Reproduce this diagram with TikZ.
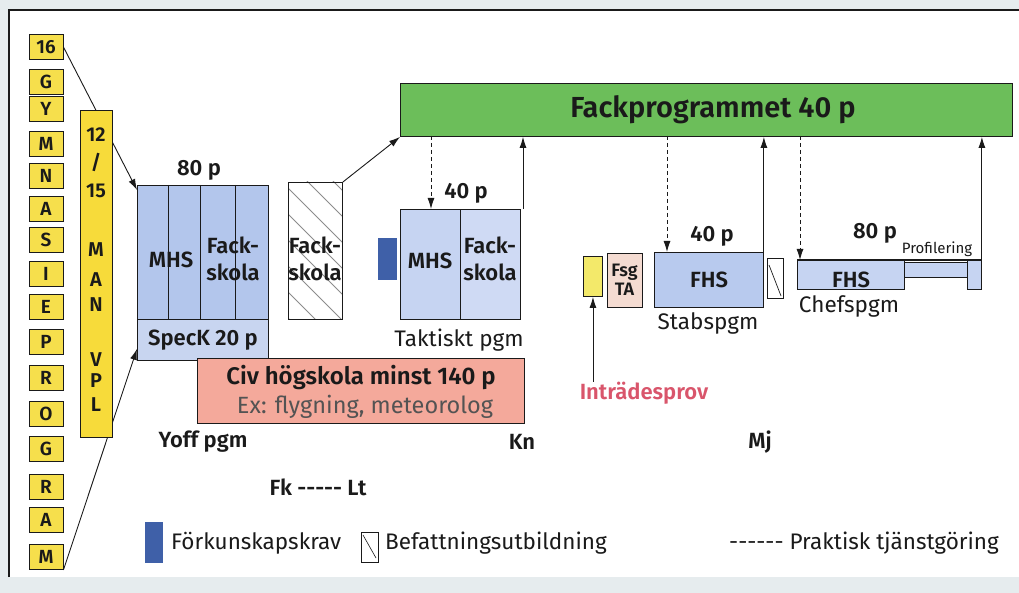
\documentclass[tikz,border=0pt]{standalone}
\usepackage{fontspec}
\setmainfont{Fira Sans}[BoldFont={Fira Sans SemiBold}]
\usetikzlibrary{arrows.meta}

\definecolor{frameout}{HTML}{E6ECEE}
\definecolor{lettery}{HTML}{F6DF4C}
\definecolor{coly}{HTML}{F7DB3A}
\definecolor{entryy}{HTML}{F3E96A}
\definecolor{blueA}{HTML}{B3C6EC}
\definecolor{blueB}{HTML}{C8D5F0}
\definecolor{blueC}{HTML}{C6D4F2}
\definecolor{blueD}{HTML}{B8CAEE}
\definecolor{prereq}{HTML}{3F60A8}
\definecolor{fpgreen}{HTML}{6CBE5A}
\definecolor{civred}{HTML}{F4A99B}
\definecolor{fsgpink}{HTML}{F4DBD1}
\definecolor{entry}{HTML}{D9556B}
\definecolor{hatchgray}{HTML}{8C8C8C}
\definecolor{ink}{HTML}{1A1A1A}

\tikzset{
  box/.style={draw=ink, line width=0.9pt, inner sep=0pt, anchor=north west},
  lt/.style={font=\fontsize{22}{27}\selectfont\bfseries, text=ink, inner sep=0pt, align=center},
  ltm/.style={font=\fontsize{22.5}{27}\selectfont, text=ink, inner sep=0pt, align=center},
  letterbox/.style={draw=ink, line width=0.9pt, fill=lettery, minimum width=34, minimum height=25,
    inner sep=0pt, font=\fontsize{19}{21}\selectfont\bfseries, text=ink},
  coltxt/.style={font=\fontsize{20}{22}\selectfont\bfseries, text=ink, inner sep=0pt},
  legtxt/.style={font=\fontsize{22.5}{26}\selectfont, text=ink, inner sep=0pt, anchor=west},
  arr/.style={draw=ink, line width=0.9pt, -{Latex[length=11pt,width=7pt]}},
  darr/.style={arr, dash pattern=on 4pt off 3pt},
  hatchline/.style={draw=hatchgray, line width=0.8pt}
}

\begin{document}
\begin{tikzpicture}[x=1pt,y=-1pt]
\useasboundingbox (0,0) rectangle (1019,593);

% page frame
\fill[frameout] (0,0) rectangle (1019,593);
\fill[white] (9,10) rectangle (1019,577);
\draw[ink, line width=1.2pt] (9,577) -- (9,10) -- (1019,10);

% officer programme block
\node[box, fill=blueA, minimum width=131, minimum height=134] (b80) at (137,185) {};
\draw[ink, line width=0.8pt] (168,185) -- (168,319) (200,185) -- (200,319) (235,185) -- (235,319);
\node[box, fill=blueB, minimum width=131, minimum height=41] (speck) at (137,319) {};
\node[lt] at (171,260) {MHS};
\node[lt] at (233,259) {Fack-\\skola};
\node[lt] at (203,340) {SpecK 20 p};
\node[lt] at (199,170) {80 p};

% letter column
\foreach \t/\y/\n in {16/47/l1, G/82/l2, Y/109/l3, M/144/l4, N/176/l5, A/209/l6, S/240/l7, I/274/l8,
  E/307/l9, P/342/l10, R/378/l11, O/414/l12, G/449/l13, R/487/l14, A/520/l15, M/557/l16}
  \node[letterbox] (\n) at (46,\y) {\t};

% entry arrows
\draw[arr] (l1.east) -- ([yshift=-5pt]b80.north west);
\draw[arr] (l16.south east) -- ([yshift=12pt]speck.south west);

% second yellow column
\node[box, fill=coly, minimum width=32, minimum height=327] (col) at (80,110) {};
\node[coltxt] at (96,135) {12};
\node[coltxt] at (96,162) {/};
\node[coltxt] at (96,191) {15};
\node[coltxt] at (96,250) {M};
\node[coltxt] at (96,280) {A};
\node[coltxt] at (96,305) {N};
\node[coltxt] at (96,360) {V};
\node[coltxt] at (96,381) {P};
\node[coltxt] at (96,405) {L};

% hatched specialist school
\node[box, fill=white, minimum width=54, minimum height=137] (hatch) at (288,182) {};
\begin{scope}
  \clip (288,182) rectangle (342,319);
  \foreach \i in {-150,-124,...,140}
    \draw[hatchline] (288,182+\i) -- (488,382+\i);
\end{scope}
\draw[ink, line width=0.9pt] (288,182) rectangle (342,319);
\node[lt] at (315,259) {Fack-\\skola};

% green programme bar
\node[box, fill=fpgreen, minimum width=612, minimum height=53] (fp) at (400,83) {};
\node[font=\fontsize{29}{32}\selectfont\bfseries, text=ink, inner sep=0pt] at (713,110) {Fackprogrammet 40 p};
\draw[arr] (hatch.north east) -- (fp.south west);

% tactical programme
\node[box, fill=blueC, minimum width=60, minimum height=110] (tmhs) at (400,209) {};
\node[box, fill=blueC!85!white, minimum width=60, minimum height=110] (tfack) at (460,209) {};
\node[fill=prereq, minimum width=19, minimum height=42, inner sep=0pt, anchor=north west] (tpre) at (378,238) {};
\node[lt] at (430,261) {MHS};
\node[lt] at (490,259) {Fack-\\skola};
\node[lt] at (466,193) {40 p};
\node[ltm] at (459,340) {Taktiskt pgm};
\draw[darr] (431,136) -- (431,209);
\coordinate (tup) at (523,209);
\draw[arr] (tup) -- (tup |- fp.south);

% civilian university
\node[box, fill=civred, minimum width=327, minimum height=65] (civ) at (197,358) {};
\node[font=\fontsize{24}{27}\selectfont\bfseries, text=ink, inner sep=0pt] at (361,378) {Civ högskola minst 140 p};
\node[font=\fontsize{23.5}{27}\selectfont, text=ink!75, inner sep=0pt] at (365,407) {Ex: flygning, meteorolog};

% timeline labels
\node[lt] at (203,442) {Yoff pgm};
\node[lt] at (522,442) {Kn};
\node[lt] at (760,442) {Mj};
\node[lt] at (318,487) {Fk {-}{-}{-}{-}{-} Lt};

% entrance test and staff programme
\node[box, fill=entryy, minimum width=19, minimum height=40] (ybox) at (583,256) {};
\node[box, fill=fsgpink, minimum width=35, minimum height=54] (fsg) at (607,253) {};
\node[font=\fontsize{18}{19}\selectfont\bfseries, text=ink, align=center, inner sep=0pt] at (624.5,280) {Fsg\\TA};
\node[font=\fontsize{22}{24}\selectfont\bfseries, text=entry, inner sep=0pt] (intr) at (644,393) {Inträdesprov};
\draw[arr] (ybox.south |- intr.north) -- (ybox.south);

\node[box, fill=blueD, minimum width=109, minimum height=55] (stab) at (654,252) {};
\node[lt] at (709,280) {FHS};
\node[lt] at (712,236) {40 p};
\node[ltm] at (708,323) {Stabspgm};
\node[box, fill=white, minimum width=16, minimum height=40] (sbef) at (767,258) {};
\draw[ink, line width=0.7pt] (769,265) -- (781,296);
\draw[darr] (667,136) -- (667,252);
\draw[arr] (stab.north east) -- (stab.north east |- fp.south);

% chief programme
\node[box, fill=blueC, minimum width=64, minimum height=15] (prof) at (904,262) {};
\node[box, fill=blueC, minimum width=107, minimum height=29] (chef) at (797,260) {};
\node[box, fill=blueC, minimum width=14, minimum height=29] (pend) at (967,260) {};
\draw[ink, line width=1.2pt] (797,260) -- (981,260);
\node[lt] at (851,280) {FHS};
\node[lt] at (875,233) {80 p};
\node[font=\fontsize{15}{17}\selectfont, text=ink, inner sep=0pt] at (937,249) {Profilering};
\node[ltm] at (849,306) {Chefspgm};
\draw[darr] (800,136) -- (800,260);
\draw[arr] (pend.north east) -- (pend.north east |- fp.south);

% legend
\node[fill=prereq, minimum width=18, minimum height=41, inner sep=0pt, anchor=north west] (lgpre) at (145,522) {};
\node[legtxt] at (171,543) {Förkunskapskrav};
\node[box, fill=white, minimum width=17, minimum height=30, line width=0.7pt] (lgbef) at (361,532) {};
\draw[ink, line width=0.6pt] (363,535) -- (376,558);
\node[legtxt] at (385,543) {Befattningsutbildning};
\node[legtxt] at (729,543) {{-}{-}{-}{-}{-}{-} Praktisk tjänstgöring};
\end{tikzpicture}
\end{document}
